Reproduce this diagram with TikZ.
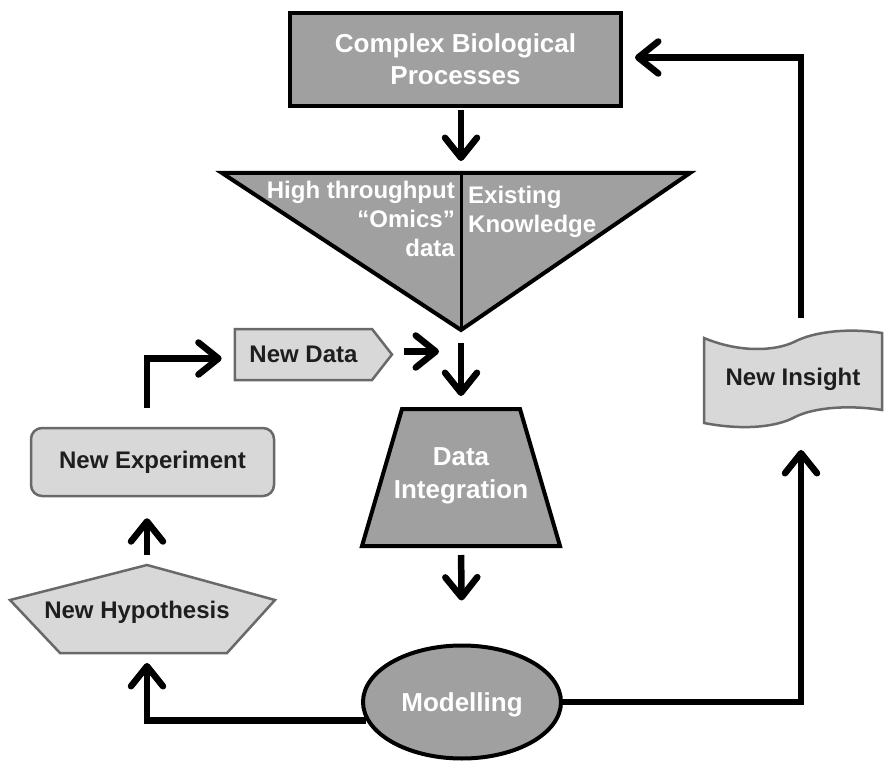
\documentclass[tikz,border=0pt]{standalone}
\usepackage{fontspec}
\setmainfont{Liberation Sans}
\usetikzlibrary{arrows.meta,shapes.geometric,shapes.symbols}
\definecolor{darkfill}{RGB}{160,160,160}
\definecolor{marble}{RGB}{216,216,216}
\definecolor{marbleedge}{RGB}{105,105,105}
\definecolor{inktext}{RGB}{30,30,30}
\begin{document}
\begin{tikzpicture}[x=1pt,y=-1pt,
  darkshape/.style={draw=black, line width=4pt, fill=darkfill, line join=miter},
  lightshape/.style={draw=marbleedge, line width=2.5pt, fill=marble},
  whitetext/.style={text=white, font=\bfseries\fontsize{26}{32}\selectfont, align=center},
  smallwhite/.style={text=white, font=\bfseries\fontsize{24}{29}\selectfont, inner sep=0pt},
  darktext/.style={text=inktext, font=\bfseries\fontsize{24}{29}\selectfont},
  conn/.style={line width=6.5pt, line join=miter,
    -{Straight Barb[length=20pt,width=32pt,round]}}
]
\fill[white] (0,0) rectangle (889,762);
\useasboundingbox (0,0) rectangle (889,762);

% Complex Biological Processes
\node[darkshape, minimum width=331pt, minimum height=93pt, whitetext] (cbp) at (455.5,59.5) {Complex Biological\\Processes};

% Triangle
\coordinate (triTL) at (222,173);
\coordinate (triTR) at (690,173);
\coordinate (triAp) at (461,330);
\coordinate (triTop) at (461,173);
\draw[darkshape] (triTL) -- (triTR) -- (triAp) -- cycle;
\draw[line width=3pt] (triTop) -- (triAp);
\node[smallwhite, align=right, anchor=north east] (omics) at (455,181) {High throughput\\``Omics''\\data};
\node[smallwhite, align=left, anchor=north west] (know) at (468,186) {Existing\\Knowledge};

% Data Integration
\draw[darkshape] (402,409) -- (520,409) -- (560,546) -- (362,546) -- cycle;
\coordinate (diTop) at (461,409);
\coordinate (diBot) at (461,546);
\node[whitetext, font=\bfseries\fontsize{26}{33}\selectfont] (di) at (461,476) {Data\\Integration};

% Modelling
\node[ellipse, darkshape, minimum width=198pt, minimum height=113pt, whitetext, text depth=0pt] (model) at (462,702) {Modelling};

% New Data
\node[signal, signal to=east, signal pointer angle=104, lightshape, darktext,
  minimum width=157pt, minimum height=51pt, inner sep=0pt] (nd) at (303.5,354.5) {New Data};
\coordinate (join) at (461,352);

% New Experiment
\node[rectangle, rounded corners=11pt, lightshape, darktext,
  minimum width=243pt, minimum height=68pt] (exp) at (152.5,462) {New Experiment};

% New Hypothesis
\coordinate (hypTop) at (147,565);
\draw[lightshape] (hypTop) -- (275,600) -- (227,653) -- (60,653) -- (10,600) -- cycle;
\coordinate (hypBot) at (147,653);
\node[darktext] (hyp) at (137,612) {New Hypothesis};

% New Insight
\draw[lightshape] (704,338) .. controls (740,353) and (775,351) .. (794,342)
  .. controls (815,331) and (850,328) .. (882,333) -- (882,410)
  .. controls (850,405) and (815,407) .. (795,417)
  .. controls (775,428) and (740,430) .. (704,423) -- cycle;
\coordinate (insTop) at (801,338);
\coordinate (insBot) at (801,418);
\node[darktext] (ins) at (793,379) {New Insight};

% Connectors
\draw[conn, shorten <=2pt, shorten >=12pt] (cbp.south -| triTop) -- (triTop);
\draw[conn, shorten <=13pt, shorten >=13pt] (triAp) -- (diTop);
\draw[conn, shorten <=10pt, shorten >=22pt] ([yshift=3pt]nd.east) -- ([yshift=3pt]nd.east -| join);
\draw[conn, shorten <=9pt, shorten >=43pt] (diBot) -- (model.north);
\draw[conn, shorten >=10pt] (model.191) -| (hypBot);
\draw[conn, shorten <=10pt, shorten >=21pt] (hypTop) -- (hypTop |- exp.south);
\draw[conn, shorten <=19pt, shorten >=12pt] (exp.north -| hypTop) |- ([yshift=-4pt]nd.west);
\draw[conn, shorten >=32pt] (model.east) -| (insBot);
\draw[conn, shorten <=20pt, shorten >=12pt] (insTop) |- ([yshift=2pt]cbp.east);
\end{tikzpicture}
\end{document}
